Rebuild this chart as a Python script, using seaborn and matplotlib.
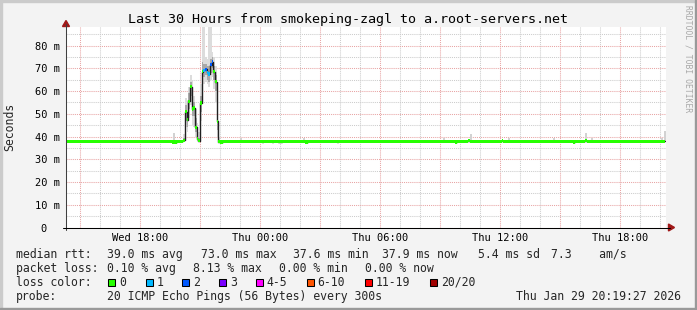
import numpy as np
import pandas as pd
import matplotlib
matplotlib.use("Agg")
import matplotlib.pyplot as plt
import matplotlib.dates as mdates
from matplotlib.patches import Rectangle, Polygon
from matplotlib.lines import Line2D
import seaborn as sns

# ---------------- data ----------------
title = "Last 30 Hours from smokeping-zagl to a.root-servers.net"
x_start = "2026-01-28 14:18"
x_end = "2026-01-29 20:18"
median_end = "2026-01-29 20:15"

# median rtt (ms) before the spike: step breakpoints
pre_times = ["2026-01-28 14:18", "2026-01-28 19:35", "2026-01-28 19:50"]
pre_values = [37.9, 37.6, 37.9]

# spike: one value per 5-minute step starting at spike_start
spike_start = "2026-01-28 20:10"
spike_median = [38.3, 50.9, 47.4, 55.6, 61.9, 52.1, 52.6, 44.0, 39.0, 38.1, 54.8,
                68.5, 69.2, 69.6, 68.3, 67.5, 71.7, 73.0, 68.5, 64.1, 46.8, 37.7]
spike_loss = [0, 0, 0, 0, 0, 0, 0, 0, 0, 0, 0,
              0, 1, 2, 1, 1, 2, 2, 0, 0, 0, 0]
spike_outer_hi = [41, 57, 56, 62, 67, 65, 58, 52, 46, 42, 63,
                  95, 95, 75, 74, 95, 95, 77, 75, 71, 57, 40]
spike_outer_lo = [37.5, 44, 42, 48, 54, 45, 44, 40, 38, 37.5, 47,
                  60, 63, 64, 63, 62, 65, 66, 61, 55, 40, 37.5]
spike_mid_hi = [39.5, 54, 51, 59, 64, 57, 55, 48, 42, 39.5, 58,
                73, 72, 72, 71, 71, 74, 75, 71, 67, 51, 38.5]
spike_mid_lo = [37.8, 47, 44, 52, 58, 49, 49, 42, 38.5, 37.8, 51,
                65, 66, 67, 65, 64, 68, 70, 65, 60, 43, 37.8]

# median rtt after the spike: step breakpoints
post_times = ["2026-01-28 22:00", "2026-01-28 22:10",
              "2026-01-29 00:05", "2026-01-29 00:10", "2026-01-29 00:35", "2026-01-29 00:40",
              "2026-01-29 00:55", "2026-01-29 01:05", "2026-01-29 02:15", "2026-01-29 02:25",
              "2026-01-29 03:50", "2026-01-29 03:55", "2026-01-29 09:45", "2026-01-29 09:50",
              "2026-01-29 10:25", "2026-01-29 10:30", "2026-01-29 12:05", "2026-01-29 12:10",
              "2026-01-29 15:40", "2026-01-29 15:45", "2026-01-29 16:15", "2026-01-29 16:20"]
post_values = [37.6, 37.9, 37.7, 37.9, 37.7, 37.9, 37.7, 37.9, 37.6, 37.9,
               37.7, 37.9, 37.6, 37.9, 38.2, 37.9, 38.2, 37.9, 37.6, 37.9, 38.2, 37.9]

# small smoke spikes on the baseline
smoke_times = ["2026-01-28 19:38", "2026-01-28 23:00", "2026-01-29 02:08", "2026-01-29 09:09",
               "2026-01-29 10:30", "2026-01-29 12:24", "2026-01-29 14:39", "2026-01-29 16:15",
               "2026-01-29 16:32", "2026-01-29 20:03", "2026-01-29 20:12"]
smoke_hi = [41.5, 39.3, 39.5, 39.3, 41.1, 39.3, 39.3, 41.5, 39.3, 39.3, 42.5]

# axes
ytick_values = [0, 10, 20, 30, 40, 50, 60, 70, 80]
ytick_labels = ["0  ", "10 m", "20 m", "30 m", "40 m", "50 m", "60 m", "70 m", "80 m"]
y_max = 88.2
xtick_times = ["2026-01-28 18:00", "2026-01-29 00:00", "2026-01-29 06:00",
               "2026-01-29 12:00", "2026-01-29 18:00"]
xtick_labels = ["Wed 18:00", "Thu 00:00", "Thu 06:00", "Thu 12:00", "Thu 18:00"]

loss_names = ["0", "1", "2", "3", "4-5", "6-10", "11-19", "20/20"]
loss_colors = ["#26ff00", "#00b8ff", "#0059ff", "#7a00ff", "#ff00ff", "#ff5500", "#ff0000", "#a10000"]

legend_rows = [
    ("median rtt:", [("39.0 ms avg", 107.3), ("73.0 ms max", 201), ("37.6 ms min", 293.3),
                     ("37.9 ms now", 381.7), ("5.4 ms sd", 478.3), ("7.3    am/s", 551)]),
    ("packet loss:", [("0.10 % avg", 107.3), ("8.13 % max", 193.3), ("0.00 % min", 279.3),
                      ("0.00 % now", 365)]),
]
probe_text = "20 ICMP Echo Pings (56 Bytes) every 300s"
date_text = "Thu Jan 29 20:19:27 2026"
watermark = "RRDTOOL / TOBI OETIKER"

# ---------------- build series ----------------
def d(s):
    return mdates.date2num(pd.Timestamp(s))

step = 5.0 / 1440.0
spike_x = [d(spike_start) + i * step for i in range(len(spike_median))]
med_x = [d(t) for t in pre_times] + spike_x + [d(t) for t in post_times]
med_y = pre_values + spike_median + post_values
med_loss = [0] * len(pre_values) + spike_loss + [0] * len(post_values)
med_end = d(median_end)
widths = list(np.diff(med_x + [med_end]))

df = pd.DataFrame({"t": med_x + [med_end], "rtt": med_y + [med_y[-1]]})

# ---------------- figure ----------------
W, H = 697, 310
sns.set_style("white")
plt.rcParams["font.family"] = ["DejaVu Sans Mono"]
fig = plt.figure(figsize=(W / 100, H / 100), dpi=100)
fig.patch.set_facecolor("#f3f3f3")

def fx(x):
    return x / W

def fy(y):
    return 1 - y / H

L, R, T, B = 66, 666, 27, 227.5
ax = fig.add_axes([fx(L), fy(B), (R - L) / W, (B - T) / H])
ax.set_facecolor("white")
for s in ax.spines.values():
    s.set_visible(False)

# smoke
ax.bar(spike_x, np.array(spike_outer_hi) - np.array(spike_outer_lo), bottom=spike_outer_lo,
       width=step, align="edge", color="#dcdcdc", linewidth=0, zorder=2)
ax.bar(spike_x, np.array(spike_mid_hi) - np.array(spike_mid_lo), bottom=spike_mid_lo,
       width=step, align="edge", color="#a8a8a8", linewidth=0, zorder=2.1)
sx = [d(t) for t in smoke_times]
ax.bar(sx, np.array(smoke_hi) - 37.9, bottom=37.9, width=step * 1.2, align="edge",
       color="#d2d2d2", linewidth=0, zorder=2)

# median line
sns.lineplot(data=df, x="t", y="rtt", drawstyle="steps-post", color="#202020",
             linewidth=1.0, estimator=None, ax=ax, zorder=3)

# loss-coloured band around median
sw = 0.7
ax.bar(med_x, [2 * sw] * len(med_y), bottom=np.array(med_y) - sw, width=widths,
       align="edge", color=[loss_colors[k] for k in med_loss], linewidth=0, zorder=4)

ax.set_xlim(d(x_start), d(x_end))
ax.set_ylim(0, y_max)
ax.set_xlabel("")
ax.set_ylabel("")

# grid
grid3 = pd.date_range("2026-01-28 15:00", "2026-01-29 18:00", freq="3h")
grid1 = pd.date_range("2026-01-28 15:00", "2026-01-29 20:00", freq="1h")
lab_map = {d(t): l for t, l in zip(xtick_times, xtick_labels)}
g3 = [mdates.date2num(t) for t in grid3]
ax.set_xticks(g3, labels=[lab_map.get(v, "") for v in g3])
ax.set_xticks([mdates.date2num(t) for t in grid1], minor=True)
ax.set_yticks(ytick_values, labels=ytick_labels)
ax.set_yticks(np.arange(5, 90, 10), minor=True)
ax.grid(which="major", color="#e8a4a4", linestyle=(0, (1, 1)), linewidth=0.75)
ax.grid(which="minor", color="#cccccc", linestyle=(0, (1, 1)), linewidth=0.75)
ax.set_axisbelow(True)
ax.tick_params(which="major", direction="out", length=2.2, width=0.75, color="#e08080",
               labelsize=7.5, pad=2.2, labelcolor="black")
ax.tick_params(which="minor", direction="out", length=2.2, width=0.75, color="#bbbbbb")
ax.tick_params(axis="x", which="major", pad=2.0)

# axis lines and arrows
fig.add_artist(Line2D([fx(L), fx(L)], [fy(230), fy(24)], color="#404040", lw=0.75))
fig.add_artist(Line2D([fx(63), fx(670)], [fy(B), fy(B)], color="black", lw=0.75))
fig.add_artist(Polygon([(fx(62.5), fy(26.5)), (fx(69.5), fy(26.5)), (fx(66), fy(20.5))],
                       closed=True, color="#a01818", transform=fig.transFigure))
fig.add_artist(Polygon([(fx(668.5), fy(224)), (fx(668.5), fy(231)), (fx(674.5), fy(227.5))],
                       closed=True, color="#a01818", transform=fig.transFigure))

# borders
fig.add_artist(Rectangle((0, fy(2)), 1, 2 / H, color="#cbcbcb", transform=fig.transFigure))
fig.add_artist(Rectangle((0, 0), 2 / W, 1, color="#cbcbcb", transform=fig.transFigure))
fig.add_artist(Rectangle((0, 0), 1, 2 / H, color="#999999", transform=fig.transFigure))
fig.add_artist(Rectangle((1 - 2 / W, 0), 2 / W, 1, color="#999999", transform=fig.transFigure))

# texts
fig.text(0.5, fy(19), title, ha="center", va="center", fontsize=9.6, color="black")
fig.text(fx(10), fy(127), "Seconds", rotation=90, ha="center", va="center", fontsize=8.3)
fig.text(fx(688), fy(59), watermark, rotation=-90, ha="center", va="center",
         fontsize=5.8, color="#a8a8a8")

row_y = [254.3, 268.3, 282.3, 296.3]
fs = 8.3
for (lab, items), yy in zip(legend_rows, row_y[:2]):
    fig.text(fx(16), fy(yy), lab, ha="left", va="center", fontsize=fs)
    for txt, xx in items:
        fig.text(fx(xx), fy(yy), txt, ha="left", va="center", fontsize=fs)

fig.text(fx(16), fy(row_y[2]), "loss color:", ha="left", va="center", fontsize=fs)
sq_x = [108.3, 145.7, 182.3, 219, 255.7, 306.7, 365, 430]
for name, col, xx in zip(loss_names, loss_colors, sq_x):
    fig.add_artist(Rectangle((fx(xx), fy(285.8)), 7 / W, 7 / H, facecolor=col,
                             edgecolor="black", linewidth=0.75, transform=fig.transFigure))
    fig.text(fx(xx + 11), fy(row_y[2]), name, ha="left", va="center", fontsize=fs)

fig.text(fx(16), fy(row_y[3]), "probe:", ha="left", va="center", fontsize=fs)
fig.text(fx(107.3), fy(row_y[3]), probe_text, ha="left", va="center", fontsize=fs)
fig.text(fx(681), fy(row_y[3]), date_text, ha="right", va="center", fontsize=fs)

fig.savefig("out.png", dpi=100, facecolor=fig.get_facecolor())
